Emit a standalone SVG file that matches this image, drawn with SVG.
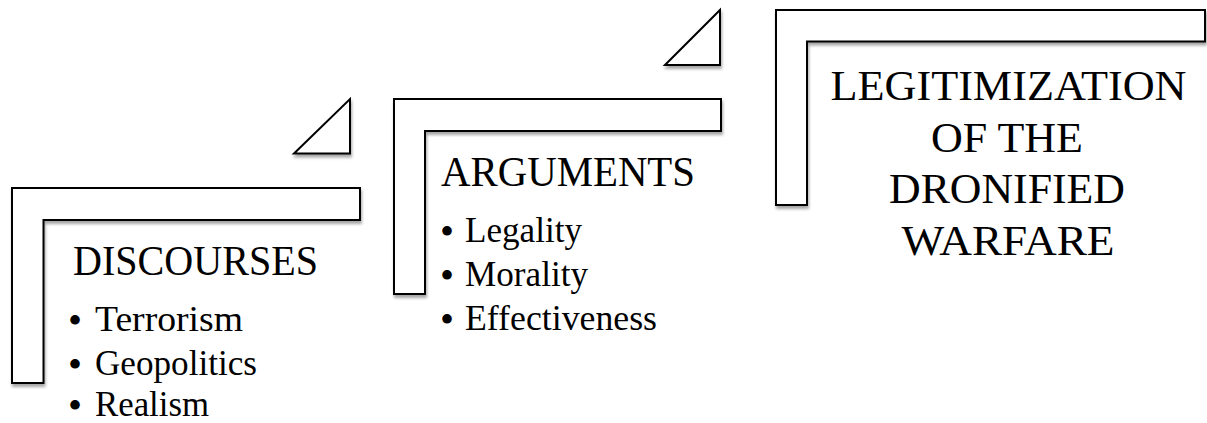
<svg xmlns="http://www.w3.org/2000/svg" width="1207" height="423" viewBox="0 0 1207 423">
  <defs>
    <filter id="sh" x="-10%" y="-10%" width="120%" height="130%">
      <feDropShadow dx="1" dy="3" stdDeviation="1.8" flood-color="#000" flood-opacity="0.35"/>
    </filter>
  </defs>
  <style>
    .shape { fill: #ffffff; stroke: #000000; stroke-width: 2; stroke-linejoin: miter; filter: url(#sh); }
    .title { font-family: "Liberation Serif", "DejaVu Serif", serif; font-size: 42px; fill: #000; }
    .item { font-family: "Liberation Serif", "DejaVu Serif", serif; font-size: 35px; fill: #000; }
    .bul { font-size: 40px; }
  </style>
  <rect width="1207" height="423" fill="#ffffff"/>

  <g id="connectors">
    <polygon class="shape" points="294,153.5 350,99 350,153.5"/>
    <polygon class="shape" points="665,65 720,10 720,65"/>
  </g>

  <g id="node-discourses">
    <polygon class="shape" points="12,188 360,188 360,220 43.5,220 43.5,383 12,383"/>
    <text class="title" x="73" y="275" textLength="245" lengthAdjust="spacingAndGlyphs">DISCOURSES</text>
    <text class="item" y="331"><tspan class="bul" x="68" dy="3">•</tspan><tspan x="95" dy="-3" textLength="148" lengthAdjust="spacingAndGlyphs">Terrorism</tspan></text>
    <text class="item" y="375"><tspan class="bul" x="68" dy="3">•</tspan><tspan x="95" dy="-3" textLength="162" lengthAdjust="spacingAndGlyphs">Geopolitics</tspan></text>
    <text class="item" y="416"><tspan class="bul" x="68" dy="3">•</tspan><tspan x="95" dy="-3" textLength="114" lengthAdjust="spacingAndGlyphs">Realism</tspan></text>
  </g>

  <g id="node-arguments">
    <polygon class="shape" points="394,99 721,99 721,131 425,131 425,294 394,294"/>
    <text class="title" x="441" y="186" textLength="254" lengthAdjust="spacingAndGlyphs">ARGUMENTS</text>
    <text class="item" y="242"><tspan class="bul" x="440" dy="3">•</tspan><tspan x="465" dy="-3" textLength="117" lengthAdjust="spacingAndGlyphs">Legality</tspan></text>
    <text class="item" y="286"><tspan class="bul" x="440" dy="3">•</tspan><tspan x="465" dy="-3" textLength="123" lengthAdjust="spacingAndGlyphs">Morality</tspan></text>
    <text class="item" y="330"><tspan class="bul" x="440" dy="3">•</tspan><tspan x="465" dy="-3" textLength="192" lengthAdjust="spacingAndGlyphs">Effectiveness</tspan></text>
  </g>

  <g id="node-legitimization">
    <polygon class="shape" points="776,10 1205,10 1205,41.5 807,41.5 807,205 776,205"/>
    <text class="title" x="1008.5" y="100" text-anchor="middle" textLength="356" lengthAdjust="spacingAndGlyphs">LEGITIMIZATION</text>
    <text class="title" x="1007" y="151.7" text-anchor="middle" textLength="152" lengthAdjust="spacingAndGlyphs">OF THE</text>
    <text class="title" x="1007" y="203.3" text-anchor="middle" textLength="236" lengthAdjust="spacingAndGlyphs">DRONIFIED</text>
    <text class="title" x="1008" y="255" text-anchor="middle" textLength="213" lengthAdjust="spacingAndGlyphs">WARFARE</text>
  </g>
</svg>
